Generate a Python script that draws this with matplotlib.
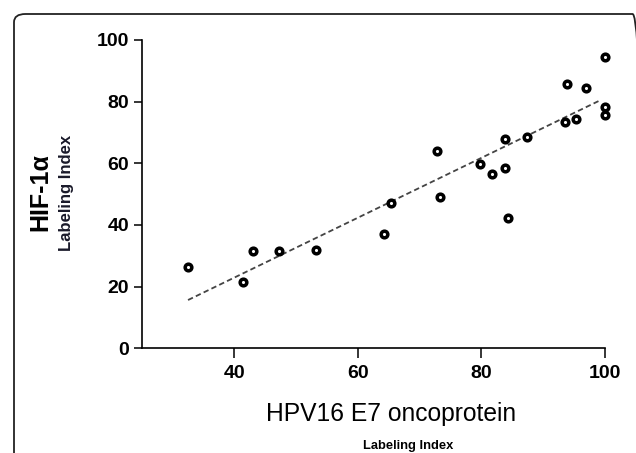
import numpy as np
import matplotlib
matplotlib.use("Agg")
import matplotlib.pyplot as plt
from matplotlib import font_manager
from matplotlib.patches import FancyBboxPatch

# HPV16 E7 oncoprotein labeling index vs HIF-1a labeling index
e7_index = [32.5, 41.4, 43.0, 47.2, 53.2, 64.3, 65.3, 72.8, 73.3, 79.8, 81.7,
            83.8, 83.8, 84.3, 87.3, 93.5, 93.9, 95.3, 96.9, 100.0, 100.0, 100.0]
hif_index = [26.3, 21.5, 31.5, 31.5, 32.0, 37.2, 47.1, 63.9, 49.1, 59.7, 56.4,
             58.4, 67.9, 42.2, 68.4, 73.3, 85.8, 74.3, 84.3, 94.5, 78.3, 75.6]

# regression line as drawn in the figure
fit_slope = 0.971
fit_intercept = -15.9
fit_x = [32.5, 99.2]

x_ticks = [40, 60, 80, 100]
y_ticks = [0, 20, 40, 60, 80, 100]

names = {f.name for f in font_manager.fontManager.ttflist}
narrow = "Liberation Sans Narrow" if "Liberation Sans Narrow" in names else "Liberation Sans"
plt.rcParams['font.family'] = ['Liberation Sans', 'DejaVu Sans']

fig = plt.figure(figsize=(6.36, 4.53), dpi=100)
ax = fig.add_axes([141.7 / 636, 1 - 348.3 / 453, (605 - 141.7) / 636, (348.3 - 40) / 453])

# rounded frame around the panel (bottom cut off)
frame = FancyBboxPatch((14 / 636, -0.2), (644 - 14) / 636, 1.2 - 14 / 453,
                       boxstyle="round,pad=0,rounding_size=0.018",
                       transform=fig.transFigure, fill=False,
                       edgecolor="#222222", linewidth=1.3, clip_on=False)
fig.patches.append(frame)

xl = np.array(fit_x)
ax.plot(xl, fit_slope * xl + fit_intercept, linestyle=(0, (3, 1.8)), color="#444444",
        linewidth=1.3, zorder=2)

ax.plot(e7_index, hif_index, linestyle="none", marker="o", markersize=4.8,
        markerfacecolor="white", markeredgecolor="black", markeredgewidth=2.5,
        zorder=3, clip_on=False)

ax.set_xlim(25, 100)
ax.set_ylim(0, 100)
ax.set_xticks(x_ticks)
ax.set_yticks(y_ticks)
ax.spines["top"].set_visible(False)
ax.spines["right"].set_visible(False)
for s in ["left", "bottom"]:
    ax.spines[s].set_linewidth(1.2)
ax.tick_params(axis="x", length=7.2, width=1.1, pad=5)
ax.tick_params(axis="y", length=6, width=1.1, pad=3)
for lab in ax.get_xticklabels() + ax.get_yticklabels():
    lab.set_fontfamily(narrow)
    lab.set_fontweight("bold")
    lab.set_fontsize(14)

fig.text(40 / 636, 1 - 192.5 / 453, "HIF-1α", rotation=90, ha="center", va="center",
         fontsize=18, fontweight="bold")
fig.text(66.3 / 636, 1 - 193 / 453, "Labeling Index", rotation=90, ha="center", va="center",
         fontsize=12, fontweight="bold", color="#1a1a2a")
fig.text(391 / 636, 1 - 414 / 453, "HPV16 E7 oncoprotein", ha="center", va="center",
         fontsize=17.7)
fig.text(408 / 636, 1 - 440 / 453, "Labeling Index", ha="center", va="top",
         fontsize=9.3, fontweight="bold", family=[narrow, "DejaVu Sans"])

fig.savefig("out.png", dpi=100)
